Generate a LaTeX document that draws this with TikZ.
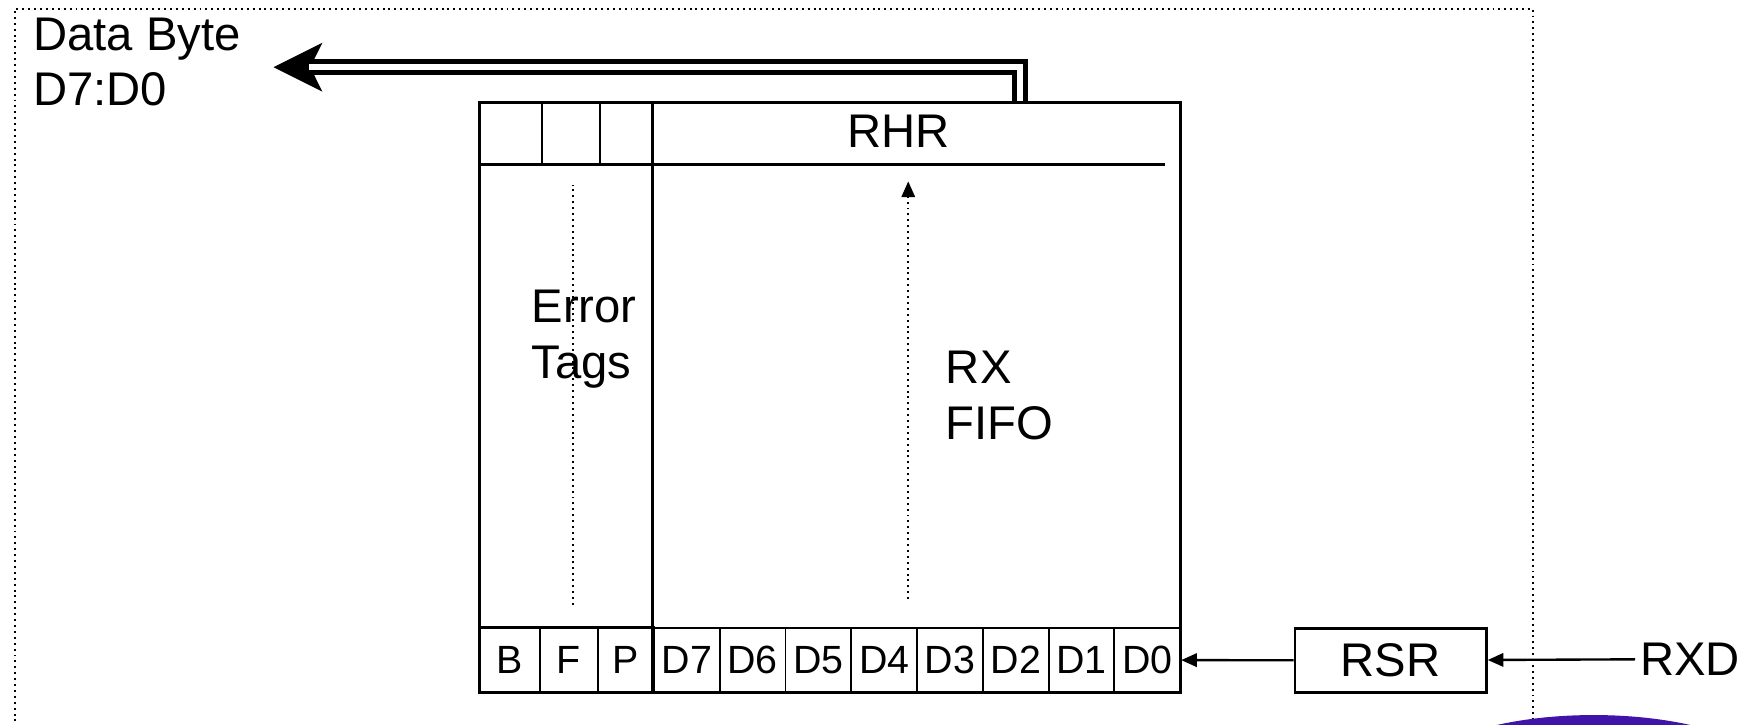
\documentclass[tikz,border=0pt]{standalone}
\usepackage{fontspec}
\setmainfont{Liberation Sans}
\usetikzlibrary{arrows.meta,positioning}
\definecolor{logopurple}{RGB}{64,20,168}
\tikzset{
  big/.style={font=\fontsize{12}{14.2}\selectfont},
  cell/.style={draw, line width=0.5pt, minimum height=0.57cm, inner sep=0pt, font=\fontsize{10}{12}\selectfont},
  conn/.style={line width=0.6pt, -{Triangle[length=0.14cm,width=0.12cm]}},
  guide/.style={densely dotted, line width=0.5pt},
}

\begin{document}
\begin{tikzpicture}
	\useasboundingbox (0,0) rectangle (15.68,-6.47);
	\clip (0,0) rectangle (15.68,-6.47);
	
	% outer dotted frame
	\draw[guide] (0.13,-6.6) -- (0.13,-0.08) -- (13.69,-0.08) -- (13.69,-6.6);
	
	% FIFO block with RHR on top
	\node[draw, line width=0.8pt, minimum width=6.26cm, minimum height=5.27cm, inner sep=0pt, anchor=north west] (fifo) at (4.27,-0.90) {};
	\draw[line width=0.8pt] (4.27,-1.47) -- (10.40,-1.47);
	\draw[line width=0.8pt] (5.83,-0.90) -- (5.83,-6.17);
	\foreach \x in {4.84,5.36}
		\draw[line width=0.6pt] (\x,-0.90) -- (\x,-1.47);
	\node[big] (rhr) at (8.02,-1.17) {RHR};
	
	% bottom row: tag bits / data bits
	\foreach \lab/\x/\w in {B/4.27/0.54, F/4.81/0.52, P/5.33/0.50}
		\node[cell, minimum width=\w cm, anchor=north west] (\lab) at (\x,-5.60) {\lab};
	\foreach \lab [count=\i from 0] in {D7,D6,D5,D4,D3,D2,D1,D0}
		\node[cell, minimum width=0.5875cm, anchor=north west] (\lab) at ({5.83+0.5875*\i},-5.60) {\lab};
	\draw[line width=0.8pt] (B.north west) -- (P.north east);
	
	\node[big, align=left, anchor=north west, inner sep=0pt] (tags) at (4.74,-2.58) {Error\\Tags};
	\node[big, align=left, anchor=north west, inner sep=0pt] (rxfifo) at (8.44,-3.13) {RX\\FIFO};
	\coordinate (tagbot) at (5.12,-5.40);
	\coordinate (tagtop) at (5.12,-1.65);
	\draw[guide] (tagbot) -- (tagtop);
	\coordinate (fifobot) at (8.11,-5.35);
	\coordinate (fifotop) at (8.11,-1.62);
	\draw[guide, -{Triangle[length=0.14cm,width=0.12cm]}] (fifobot) -- (fifotop);
	
	% data byte bus
	\node[big, align=left, anchor=north west, inner sep=0pt] (databyte) at (0.29,-0.15) {Data Byte\\D7:D0};
	\coordinate (tap) at (9.11,-0.90);
	\coordinate (busend) at (2.44,-0.60);
	\draw[line width=0.14cm, -{Stealth[length=0.43cm,width=0.42cm,inset=0.1cm]}] (tap) |- (busend);
	\draw[white, line width=0.055cm, shorten >=0.32cm] (tap) |- (busend);
	
	% receive shift register
	\node[draw, big, line width=0.7pt, minimum width=1.71cm, minimum height=0.57cm, anchor=north west] (rsr) at (11.55,-5.60) {RSR};
	\node[big, anchor=west, inner sep=0.04cm] (rxd) at (14.60,-5.885) {RXD};
	\draw[conn] (rsr) -- (D0);
	\draw[conn] (rxd) -- (rsr);
	
	% logo edge
	\draw[logopurple, line width=0.09cm] (14.23,-7.03) ellipse (1.64cm and 0.6cm);
	
\end{tikzpicture}
\end{document}
